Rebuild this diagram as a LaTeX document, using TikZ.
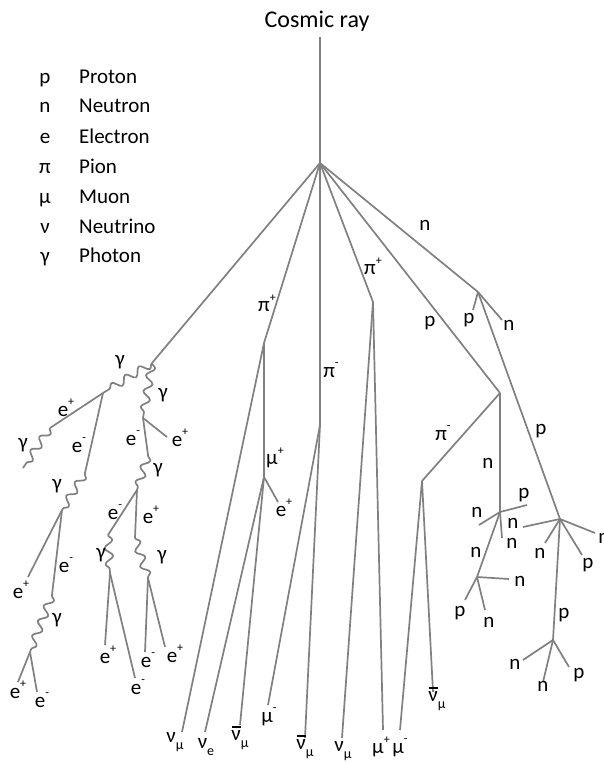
\documentclass[tikz,border=0pt]{standalone}
\usepackage{fontspec}
\setmainfont{Carlito}
\usetikzlibrary{decorations.pathmorphing}
\definecolor{linegray}{RGB}{128,128,128}
\newcommand\spp[1]{\raisebox{0.5em}{\fontsize{12}{12}\selectfont #1}}
\newcommand\sbb[1]{\raisebox{-0.3em}{\fontsize{14}{14}\selectfont #1}}
\newcommand\nub{\ooalign{ν\cr\hidewidth\raisebox{0.62em}{\rule{0.42em}{0.06em}}\hidewidth\cr}}
\begin{document}
\begin{tikzpicture}[x=1pt,y=-1pt,
  line/.style={draw=linegray, line width=1.7pt, line join=round},
  photon/.style={line, decorate, decoration={snake, segment length=16pt, amplitude=4pt}},
  lab/.style={font=\fontsize{21}{21}\selectfont, inner sep=0pt, text=black},
  leg/.style={lab, anchor=base},
  legname/.style={lab, anchor=base west}]
\useasboundingbox (0,0) rectangle (604,765);
% ---------- legend ----------
\node[leg] (s1) at (45,84) {p};   \node[legname] (t1) at (79,84) {Proton};
\node[leg] (s2) at (45,113) {n};  \node[legname] (t2) at (79,113) {Neutron};
\node[leg] (s3) at (45,143) {e};  \node[legname] (t3) at (79,143) {Electron};
\node[leg] (s4) at (45,173) {π};  \node[legname] (t4) at (79,173) {Pion};
\node[leg] (s5) at (45,203) {μ};  \node[legname] (t5) at (79,203) {Muon};
\node[leg] (s6) at (45,233) {ν};  \node[legname] (t6) at (79,233) {Neutrino};
\node[leg] (s7) at (45,262) {γ};  \node[legname] (t7) at (79,262) {Photon};
% ---------- title ----------
\node[lab, anchor=base, font=\fontsize{24}{24}\selectfont] (title) at (317,28) {Cosmic ray};
% ---------- vertices ----------
\coordinate (top) at (320,37);
\coordinate (V0) at (320,163);
\coordinate (G0) at (152,363);
\coordinate (P1) at (264,343);
\coordinate (M1) at (264,477);
\coordinate (P2) at (320,425);
\coordinate (P3) at (373,302);
\coordinate (N1) at (478,292);
\coordinate (P4) at (500,393);
\coordinate (Q1) at (422,481);
\coordinate (A) at (500,512);
\coordinate (B) at (477,577);
\coordinate (C) at (560,519);
\coordinate (D) at (553,640);
% ends
\coordinate (eM1) at (278,502);
\coordinate (nuL) at (182,732);
\coordinate (nue) at (205,732);
\coordinate (nubA) at (240,725);
\coordinate (muA) at (268,705);
\coordinate (nubB) at (305,738);
\coordinate (numB) at (342,738);
\coordinate (mupB) at (383,730);
\coordinate (mumC) at (400,730);
\coordinate (nubC) at (433,692);
\coordinate (pN1) at (473,310);
\coordinate (nN1) at (502,320);
\coordinate (pA) at (527,505);
\coordinate (nA1) at (479,525);
\coordinate (nA2) at (502,538);
\coordinate (nB1) at (509,579);
\coordinate (pB) at (465,600);
\coordinate (nB2) at (485,610);
\coordinate (nC1) at (523,527);
\coordinate (nC2) at (545,543);
\coordinate (pC) at (582,555);
\coordinate (nC3) at (595,533);
\coordinate (nD1) at (523,660);
\coordinate (nD2) at (543,682);
\coordinate (pD) at (569,667);
% left shower
\coordinate (E1) at (103,393);
\coordinate (E2) at (143,418);
\coordinate (F1) at (50,428);
\coordinate (F2) at (23,468);
\coordinate (H1) at (85,473);
\coordinate (H2) at (62,510);
\coordinate (eH2) at (28,577);
\coordinate (H3) at (52,595);
\coordinate (H4) at (30,652);
\coordinate (eH4a) at (18,682);
\coordinate (eH4b) at (37,692);
\coordinate (eE2) at (167,437);
\coordinate (K1) at (148,455);
\coordinate (K2) at (137,490);
\coordinate (L1) at (108,535);
\coordinate (Mp) at (135,538);
\coordinate (L2) at (110,573);
\coordinate (eL2a) at (105,645);
\coordinate (eL2b) at (135,678);
\coordinate (R2) at (148,578);
\coordinate (eR2a) at (145,652);
\coordinate (eR2b) at (165,647);
% ---------- lines ----------
\draw[line] (top) -- (V0);
\draw[line] (V0) -- (G0);
\draw[line] (V0) -- (P1) -- (M1);
\draw[line] (P1) -- (nuL);
\draw[line] (M1) -- (eM1);
\draw[line] (M1) -- (nue);
\draw[line] (M1) -- (nubA);
\draw[line] (V0) -- (P2);
\draw[line] (P2) -- (muA);
\draw[line] (P2) -- (nubB);
\draw[line] (V0) -- (P3);
\draw[line] (P3) -- (numB);
\draw[line] (P3) -- (mupB);
\draw[line] (V0) -- (P4);
\draw[line] (P4) -- (Q1);
\draw[line] (Q1) -- (mumC);
\draw[line] (Q1) -- (nubC);
\draw[line] (P4) -- (A);
\draw[line] (A) -- (pA);
\draw[line] (A) -- (nA1);
\draw[line] (A) -- (nA2);
\draw[line] (A) -- (B);
\draw[line] (B) -- (nB1);
\draw[line] (B) -- (pB);
\draw[line] (B) -- (nB2);
\draw[line] (V0) -- (N1);
\draw[line] (N1) -- (pN1);
\draw[line] (N1) -- (nN1);
\draw[line] (N1) -- (C);
\draw[line] (C) -- (nC1);
\draw[line] (C) -- (nC2);
\draw[line] (C) -- (pC);
\draw[line] (C) -- (nC3);
\draw[line] (C) -- (D);
\draw[line] (D) -- (nD1);
\draw[line] (D) -- (nD2);
\draw[line] (D) -- (pD);
% left shower
\draw[photon] (G0) -- (E1);
\draw[photon] (G0) -- (E2);
\draw[line] (E1) -- (F1);
\draw[photon] (F1) -- (F2);
\draw[line] (E1) -- (H1);
\draw[photon] (H1) -- (H2);
\draw[line] (H2) -- (eH2);
\draw[line] (H2) -- (H3);
\draw[photon] (H3) -- (H4);
\draw[line] (H4) -- (eH4a);
\draw[line] (H4) -- (eH4b);
\draw[line] (E2) -- (eE2);
\draw[line] (E2) -- (K1);
\draw[photon] (K1) -- (K2);
\draw[line] (K2) -- (L1);
\draw[line] (K2) -- (Mp);
\draw[photon] (L1) -- (L2);
\draw[line] (L2) -- (eL2a);
\draw[line] (L2) -- (eL2b);
\draw[photon] (Mp) -- (R2);
\draw[line] (R2) -- (eR2a);
\draw[line] (R2) -- (eR2b);
% ---------- labels ----------
\node[lab] (a1) at (120,362) {γ};
\node[lab] (a2) at (163,395) {γ};
\node[lab] (a3) at (66,408) {e\spp{+}};
\node[lab] (a4) at (23,445) {γ};
\node[lab] (a5) at (79,445) {e\spp{-}};
\node[lab] (a6) at (57,486) {γ};
\node[lab] (a7) at (21,590) {e\spp{+}};
\node[lab] (a8) at (66,565) {e\spp{-}};
\node[lab] (a9) at (57,620) {γ};
\node[lab] (a10) at (18,690) {e\spp{+}};
\node[lab] (a11) at (42,700) {e\spp{-}};
\node[lab] (a12) at (180,438) {e\spp{+}};
\node[lab] (a13) at (133,438) {e\spp{-}};
\node[lab] (a14) at (158,470) {γ};
\node[lab] (a15) at (115,512) {e\spp{-}};
\node[lab] (a16) at (151,515) {e\spp{+}};
\node[lab] (a17) at (101,555) {γ};
\node[lab] (a18) at (162,557) {γ};
\node[lab] (a19) at (108,655) {e\spp{+}};
\node[lab] (a20) at (138,687) {e\spp{-}};
\node[lab] (a21) at (148,660) {e\spp{-}};
\node[lab] (a22) at (175,654) {e\spp{+}};
% pions, muons
\node[lab] (b1) at (267,303) {π\spp{+}};
\node[lab] (b2) at (331,370) {π\spp{-}};
\node[lab] (b3) at (373,266) {π\spp{+}};
\node[lab] (b4) at (443,433) {π\spp{-}};
\node[lab] (b5) at (275,458) {μ\spp{+}};
\node[lab] (b6) at (284,508) {e\spp{+}};
% bottom
\node[lab] (c1) at (175,742) {ν\sbb{μ}};
\node[lab] (c2) at (206,747) {ν\sbb{e}};
\node[lab] (c3) at (240,740) {\nub\sbb{μ}};
\node[lab] (c4) at (269,717) {μ\spp{-}};
\node[lab] (c5) at (305,749) {\nub\sbb{μ}};
\node[lab] (c6) at (343,751) {ν\sbb{μ}};
\node[lab] (c7) at (381,747) {μ\spp{+}};
\node[lab] (c8) at (400,748) {μ\spp{-}};
\node[lab] (c9) at (437,701) {\nub\sbb{μ}};
% nucleons
\node[lab] (d1) at (425,225) {n};
\node[lab] (d2) at (430,323) {p};
\node[lab] (d3) at (469,320) {p};
\node[lab] (d4) at (509,325) {n};
\node[lab] (d5) at (488,463) {n};
\node[lab] (d6) at (541,431) {p};
\node[lab] (d7) at (524,495) {p};
\node[lab] (d8) at (477,512) {n};
\node[lab] (d9) at (512,543) {n};
\node[lab] (d10) at (476,552) {n};
\node[lab] (d11) at (520,581) {n};
\node[lab] (d12) at (460,613) {p};
\node[lab] (d13) at (489,622) {n};
\node[lab] (d14) at (513,523) {n};
\node[lab] (d15) at (540,553) {n};
\node[lab] (d16) at (588,565) {p};
\node[lab] (d17) at (604,538) {n};
\node[lab] (d18) at (564,615) {p};
\node[lab] (d19) at (515,664) {n};
\node[lab] (d20) at (543,686) {n};
\node[lab] (d21) at (579,675) {p};
\end{tikzpicture}
\end{document}
